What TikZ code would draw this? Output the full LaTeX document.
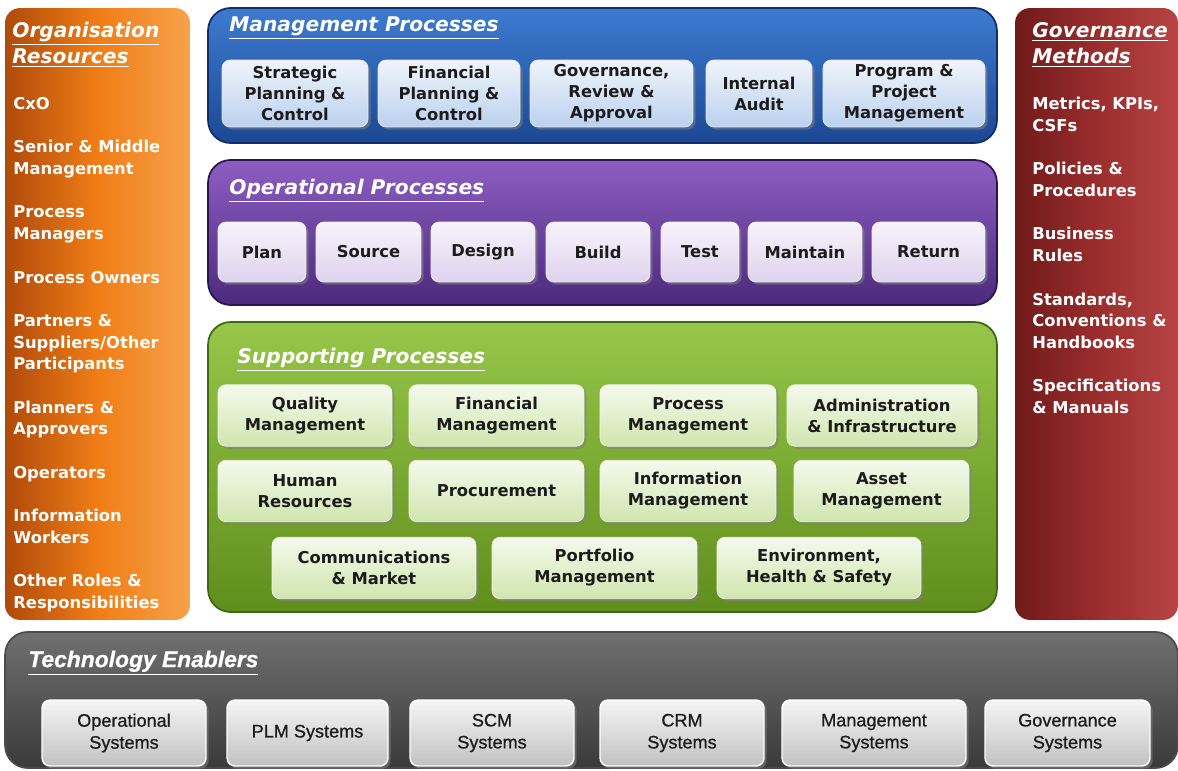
\documentclass[tikz,border=0pt]{standalone}
\usepackage{fontspec}
\setmainfont{DejaVu Sans}
\newfontfamily\arialfont[FakeBold=0.8]{Liberation Sans}
\usetikzlibrary{positioning,shadows}

\definecolor{orgdark}{HTML}{B04A0A}
\definecolor{orgmid}{HTML}{F07D16}
\definecolor{orglight}{HTML}{F6A24A}
\definecolor{mgtop}{HTML}{3D7BD0}
\definecolor{mgbot}{HTML}{1C4894}
\definecolor{mgedge}{HTML}{102E68}
\definecolor{optop}{HTML}{8D5EC2}
\definecolor{opbot}{HTML}{4B2A7C}
\definecolor{opedge}{HTML}{2C154F}
\definecolor{sptop}{HTML}{97C64A}
\definecolor{spbot}{HTML}{5F8E1C}
\definecolor{spedge}{HTML}{3E6910}
\definecolor{gvdark}{HTML}{701A1A}
\definecolor{gvmid}{HTML}{9A2D2D}
\definecolor{gvlight}{HTML}{B84444}
\definecolor{tetop}{HTML}{707070}
\definecolor{tebot}{HTML}{3A3A3A}
\definecolor{boxtext}{HTML}{1C1C1C}

\begin{document}
\begin{tikzpicture}[
  x=0.02cm, y=-0.02cm,
  panel/.style={rounded corners=0.45cm, line width=1pt},
  sidepanel/.style={rounded corners=0.3cm, minimum width=#1, minimum height=12.24cm},
  heading/.style={anchor=west, inner sep=0pt, text=white, font=\fontsize{11.5}{14.7}\selectfont\bfseries\itshape},
  sidehead/.style={anchor=north west, inner sep=0pt, align=left, text=white, font=\fontsize{11.5}{14.7}\selectfont\bfseries\itshape},
  sidelist/.style={anchor=north west, inner sep=0pt, align=left, text=white, font=\fontsize{9.3}{12.35}\selectfont\bfseries},
  procbox/.style={rounded corners=0.16cm, align=center, inner sep=1pt, text=boxtext,
    font=\fontsize{9.3}{12}\selectfont\bfseries,
    drop shadow={shadow xshift=1.5pt, shadow yshift=-1.5pt, opacity=0.55}},
  mgbox/.style={procbox, draw=white!85!mgtop, top color=white!92!mgtop, bottom color=white!65!mgtop, minimum height=1.34cm},
  opbox/.style={procbox, draw=white!88!optop, top color=white!93!optop, bottom color=white!72!optop, minimum height=1.2cm},
  spbox/.style={procbox, draw=white!85!sptop, top color=white!90!sptop, bottom color=white!55!sptop, minimum height=1.23cm},
  tebox/.style={procbox, draw=white, line width=0.8pt, top color=white!96!black, bottom color=white!76!black,
    font=\fontsize{10.3}{12.5}\selectfont\arialfont, minimum height=1.32cm}
]

\useasboundingbox (0,0) rectangle (1178,771);

% Side panels
\node[panel, sidepanel=3.7cm, left color=orgdark, right color=orglight, middle color=orgmid] (orgres) at (97.5,314) {};
\node[panel, sidepanel=3.26cm, left color=gvdark, right color=gvlight, middle color=gvmid] (govm) at (1096.5,314) {};

% Process panels
\node[panel, draw=mgedge, top color=mgtop, bottom color=mgbot, minimum width=15.78cm, minimum height=2.7cm] (mgmt) at (602.5,75.5) {};
\node[panel, draw=opedge, top color=optop, bottom color=opbot, minimum width=15.78cm, minimum height=2.9cm] (oper) at (602.5,232.5) {};
\node[panel, draw=spedge, top color=sptop, bottom color=spbot, minimum width=15.78cm, minimum height=5.8cm] (supp) at (602.5,467) {};
\node[panel, draw=black!70, top color=tetop, bottom color=tebot, minimum width=23.46cm, minimum height=2.72cm] (tech) at (591.5,700) {};

% Headings
\node[sidehead] (orgtitle) at (12,22) {\underline{Organisation}\\\underline{Resources}};
\node[sidehead] (govtitle) at (1032,22) {\underline{Governance}\\\underline{Methods}};
\node[heading] (mgtitle) at (229,28) {\underline{Management Processes}};
\node[heading] (optitle) at (229,191) {\underline{Operational Processes}};
\node[heading] (sptitle) at (237,360) {\underline{Supporting Processes}};
\node[heading, font=\fontsize{13}{15}\selectfont\arialfont\bfseries\itshape] (tetitle) at (28,663) {\underline{Technology Enablers}};

% Side lists
\node[sidelist] (orglist) at (13,97) {CxO\\[12.35pt]Senior \& Middle\\Management\\[12.35pt]Process\\Managers\\[12.35pt]Process Owners\\[12.35pt]Partners \&\\Suppliers/Other\\Participants\\[12.35pt]Planners \&\\Approvers\\[12.35pt]Operators\\[12.35pt]Information\\Workers\\[12.35pt]Other Roles \&\\Responsibilities};
\node[sidelist] (govlist) at (1032,97) {Metrics, KPIs,\\CSFs\\[12.35pt]Policies \&\\Procedures\\[12.35pt]Business\\Rules\\[12.35pt]Standards,\\Conventions \&\\Handbooks\\[12.35pt]Specifications\\\& Manuals};

% Management processes
\node[mgbox, minimum width=2.92cm] (strat) at (295,93.5) {Strategic\\Planning \&\\Control};
\node[mgbox, minimum width=2.84cm] (finplan) at (449,93.5) {Financial\\Planning \&\\Control};
\node[mgbox, minimum width=3.26cm] (gra) at (611.5,93.5) {Governance,\\Review \&\\Approval};
\node[mgbox, minimum width=2.12cm] (audit) at (759,93.5) {Internal\\Audit};
\node[mgbox, minimum width=3.24cm] (ppm) at (904,93.5) {Program \&\\Project\\Management};

% Operational processes
\node[opbox, minimum width=1.76cm] (plan) at (262,252) {Plan};
\node[opbox, minimum width=2.1cm] (source) at (368.5,252) {Source};
\node[opbox, minimum width=2.08cm] (design) at (483,252) {Design};
\node[opbox, minimum width=2.08cm] (build) at (598,252) {Build};
\node[opbox, minimum width=1.56cm] (test) at (700,252) {Test};
\node[opbox, minimum width=2.28cm] (maintain) at (805,252) {Maintain};
\node[opbox, minimum width=2.26cm] (return) at (928.5,252) {Return};

% Supporting processes
\node[spbox, minimum width=3.48cm] (quality) at (305,415.5) {Quality\\Management};
\node[spbox, minimum width=3.5cm] (finmgmt) at (496.5,415.5) {Financial\\Management};
\node[spbox, minimum width=3.52cm] (procmgmt) at (688,415.5) {Process\\Management};
\node[spbox, minimum width=3.8cm] (admin) at (882,415.5) {Administration\\\& Infrastructure};
\node[spbox, minimum width=3.48cm] (hr) at (305,491) {Human\\Resources};
\node[spbox, minimum width=3.5cm] (procure) at (496.5,491) {Procurement};
\node[spbox, minimum width=3.52cm] (infomgmt) at (688,491) {Information\\Management};
\node[spbox, minimum width=3.5cm] (asset) at (881.5,491) {Asset\\Management};
\node[spbox, minimum width=4.08cm] (comms) at (374,568) {Communications\\\& Market};
\node[spbox, minimum width=4.1cm] (portfolio) at (594.5,568) {Portfolio\\Management};
\node[spbox, minimum width=4.08cm] (ehs) at (819,568) {Environment,\\Health \& Safety};

% Technology enablers
\node[tebox, minimum width=3.28cm] (opsys) at (124,733) {Operational\\Systems};
\node[tebox, minimum width=3.22cm] (plm) at (307.5,733) {PLM Systems};
\node[tebox, minimum width=3.28cm] (scm) at (492,733) {SCM\\Systems};
\node[tebox, minimum width=3.28cm] (crm) at (682,733) {CRM\\Systems};
\node[tebox, minimum width=3.68cm] (mgsys) at (874,733) {Management\\Systems};
\node[tebox, minimum width=3.3cm] (gvsys) at (1067.5,733) {Governance\\Systems};

\end{tikzpicture}
\end{document}
